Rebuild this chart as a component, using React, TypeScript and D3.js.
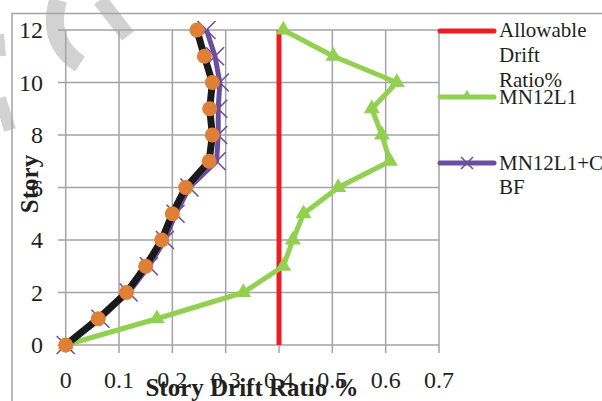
import React from 'react';
import * as d3 from 'd3';

const stories = [0, 1, 2, 3, 4, 5, 6, 7, 8, 9, 10, 11, 12];
const allowable = [0.4, 0.4];
const allowableStories = [0, 12];
const mn12l1 = [0, 0.171, 0.333, 0.408, 0.426, 0.446, 0.511, 0.608, 0.593, 0.574, 0.621, 0.502, 0.408];
const mn12l1Cbf = [0, 0.065, 0.118, 0.156, 0.186, 0.206, 0.232, 0.283, 0.286, 0.286, 0.289, 0.28, 0.264];
const blackSeries = [0, 0.061, 0.114, 0.15, 0.18, 0.2, 0.225, 0.269, 0.275, 0.27, 0.275, 0.26, 0.246];
const xTicks = [0, 0.1, 0.2, 0.3, 0.4, 0.5, 0.6, 0.7];
const yTicks = [0, 2, 4, 6, 8, 10, 12];

const W = 602;
const H = 401;
const grid = '#a3a3a3';
const font = '"Liberation Serif", "Times New Roman", serif';

export default function App() {
  const x = d3.scaleLinear().domain([0, 0.7]).range([65.7, 439]);
  const y = d3.scaleLinear().domain([0, 12]).range([345, 30]);
  const line = d3.line<[number, number]>().x(d => x(d[0])).y(d => y(d[1]));

  const pts = (vals: number[], ys: number[]) => vals.map((v, i) => [v, ys[i]] as [number, number]);
  const tri = d3.symbol().type(d3.symbolTriangle).size(110)();

  return (
    <svg width={W} height={H} style={{ position: 'absolute', left: 0, top: 0 }}>
      <rect width={W} height={H} fill="#fff" />
      {/* watermark (faint, partly cut off) */}
      <g stroke="#d2d2d2" fill="none" strokeLinecap="butt">
        <path d="M58,0 Q46,42 80,64" strokeWidth={18} />
        <path d="M100,0 L128,36" strokeWidth={15} />
        <path d="M0,98 L10,130" strokeWidth={12} />
        <path d="M0,34 L2,56" strokeWidth={8} />
      </g>
      {/* outer border */}
      <path d={`M12,${H} L12,13.5 L${W},13.5`} stroke={grid} strokeWidth={1.5} fill="none" />

      {/* grid */}
      <g stroke={grid} strokeWidth={1.5}>
        {yTicks.map(t => (
          <line key={'h' + t} x1={58} x2={x(0.7)} y1={y(t)} y2={y(t)} />
        ))}
        {xTicks.map(t => (
          <line key={'v' + t} x1={x(t)} x2={x(t)} y1={y(12)} y2={353} />
        ))}
      </g>

      {/* tick labels */}
      <g fontFamily={font} fontSize={24} fill="#231f20">
        {yTicks.map(t => (
          <text key={'yl' + t} x={43} y={y(t)} dy="0.35em" textAnchor="end">{t}</text>
        ))}
        {xTicks.map(t => (
          <text key={'xl' + t} x={x(t)} y={388} textAnchor="middle">{t}</text>
        ))}
      </g>

      {/* series */}
      <path d={line(pts(allowable, allowableStories)) || ''} stroke="#ed1c24" strokeWidth={5} fill="none" />
      <path d={line(pts(mn12l1, stories)) || ''} stroke="#92d050" strokeWidth={5} fill="none" strokeLinejoin="round" />
      {pts(mn12l1, stories).map((p, i) => (
        <path key={'t' + i} d={tri || ''} transform={`translate(${x(p[0])},${y(p[1])})`} fill="#92d050" />
      ))}
      <path d={line(pts(mn12l1Cbf, stories)) || ''} stroke="#6a4fa0" strokeWidth={5} fill="none" strokeLinejoin="round" />
      {pts(mn12l1Cbf, stories).map((p, i) => (
        <g key={'x' + i} transform={`translate(${x(p[0])},${y(p[1])})`} stroke="#6a4fa0" strokeWidth={1.6}>
          <line x1={-9} y1={-9} x2={9} y2={9} />
          <line x1={-9} y1={9} x2={9} y2={-9} />
        </g>
      ))}
      <path d={line(pts(blackSeries, stories)) || ''} stroke="#1a1a1a" strokeWidth={7} fill="none" strokeLinejoin="round" />
      {pts(blackSeries, stories).map((p, i) => (
        <circle key={'c' + i} cx={x(p[0])} cy={y(p[1])} r={7.5} fill="#e07f36" />
      ))}

      {/* axis titles */}
      <text x={252} y={396} textAnchor="middle" fontFamily={font} fontWeight="bold" fontSize={25} fill="#231f20">
        Story Drift Ratio %
      </text>
      <text transform="translate(38,184) rotate(-90)" textAnchor="middle" fontFamily={font} fontWeight="bold" fontSize={25} fill="#231f20">
        Story
      </text>

      {/* legend */}
      <g fontFamily={font} fontSize={21} fill="#231f20">
        <line x1={440} x2={494} y1={31} y2={31} stroke="#ed1c24" strokeWidth={5} strokeLinecap="round" />
        <text x={499} y={37}>Allowable</text>
        <text x={499} y={62}>Drift</text>
        <text x={499} y={87}>Ratio%</text>
        <line x1={440} x2={494} y1={97} y2={97} stroke="#92d050" strokeWidth={5} strokeLinecap="round" />
        <path d={d3.symbol().type(d3.symbolTriangle).size(50)() || ''} transform="translate(467,96)" fill="#92d050" />
        <text x={499} y={104}>MN12L1</text>
        <line x1={440} x2={494} y1={163} y2={163} stroke="#6a4fa0" strokeWidth={5} strokeLinecap="round" />
        <g transform="translate(467,163)" stroke="#6a4fa0" strokeWidth={1.6}>
          <line x1={-6} y1={-6} x2={6} y2={6} />
          <line x1={-6} y1={6} x2={6} y2={-6} />
        </g>
        <text x={499} y={170}>MN12L1+C</text>
        <text x={499} y={194}>BF</text>
      </g>
    </svg>
  );
}
